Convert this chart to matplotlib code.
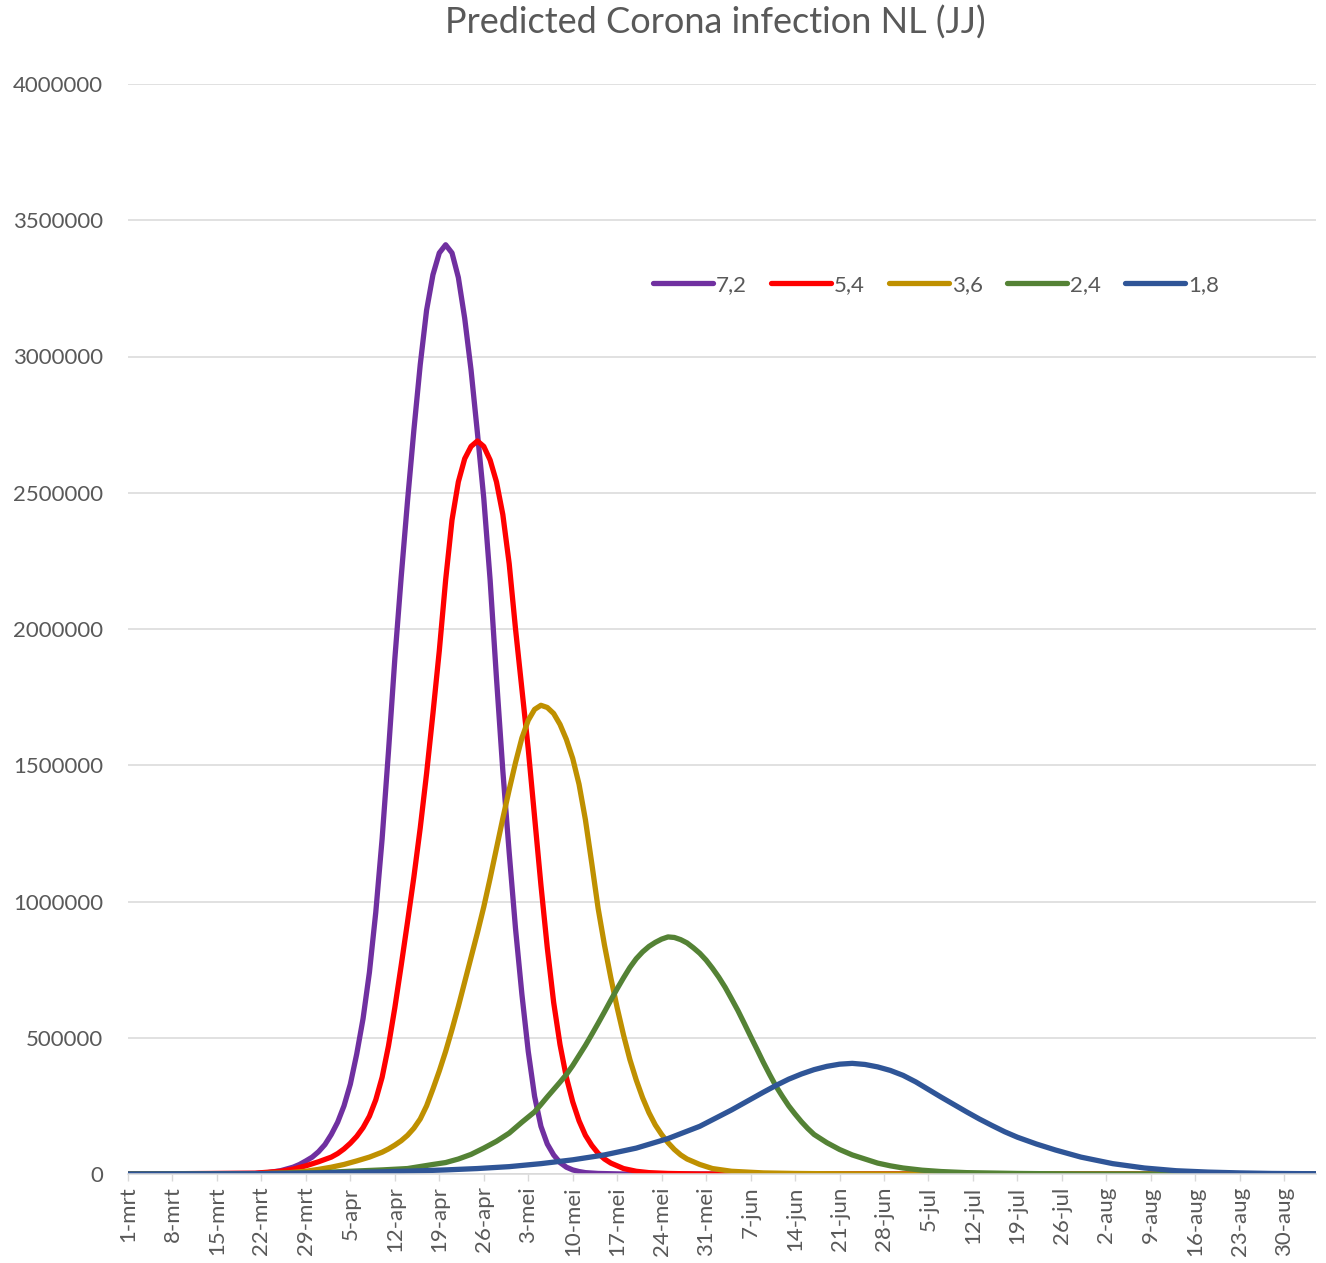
import numpy as np
import pandas as pd
import matplotlib
matplotlib.use("Agg")
import matplotlib.pyplot as plt

plt.rcParams['font.family'] = ['Lato', 'DejaVu Sans']

start = pd.Timestamp("2020-03-01")
last_day = 187
dutch_months = {3: "mrt", 4: "apr", 5: "mei", 6: "jun", 7: "jul", 8: "aug", 9: "sep"}

# values, in thousands, per day offset from 1-mrt
days_72 = [0, 20, 22, 24, 26, 27, 28, 29, 30, 31, 32, 33, 34, 35, 36, 37, 38, 39, 40, 41, 42, 43, 44,
           45, 46, 47, 48, 49, 50, 51, 52, 53, 54, 55, 56, 57, 58, 59, 60, 61, 62, 63, 64, 65, 66,
           67, 68, 69, 70, 71, 72, 74, 78, 187]
vals_72 = [0, 2, 5, 12, 25, 35, 48, 62, 82, 108, 145, 190, 250, 330, 440, 570, 740, 960, 1230, 1550,
           1890, 2190, 2470, 2730, 2970, 3170, 3300, 3380, 3410, 3380, 3290, 3140, 2950, 2720, 2480,
           2180, 1820, 1480, 1180, 900, 660, 450, 285, 175, 110, 70, 42, 25, 15, 9, 5, 2, 0, 0]

days_54 = [0, 20, 24, 26, 28, 30, 32, 33, 34, 35, 36, 37, 38, 39, 40, 41, 42, 43, 44, 45, 46, 47, 48,
           49, 50, 51, 52, 53, 54, 55, 56, 57, 58, 59, 60, 61, 62, 63, 64, 65, 66, 67, 68, 69, 70, 71,
           72, 73, 74, 75, 76, 78, 80, 82, 85, 90, 187]
vals_54 = [0, 3, 10, 18, 30, 45, 62, 75, 92, 113, 138, 170, 212, 272, 355, 470, 610, 765, 925, 1090,
           1270, 1470, 1690, 1920, 2180, 2400, 2540, 2625, 2670, 2690, 2670, 2620, 2540, 2420, 2240,
           2000, 1780, 1560, 1310, 1060, 830, 630, 475, 355, 265, 195, 142, 105, 76, 55, 40, 20, 10,
           5, 2, 0, 0]

days_36 = [0, 20, 25, 28, 30, 32, 34, 36, 38, 40, 41, 42, 43, 44, 45, 46, 47, 48, 49, 50, 51, 52, 53,
           54, 55, 56, 57, 58, 59, 60, 61, 62, 63, 64, 65, 66, 67, 68, 69, 70, 71, 72, 73, 74, 75, 76,
           77, 78, 79, 80, 81, 82, 83, 84, 85, 86, 87, 88, 90, 92, 95, 100, 105, 110, 120, 187]
vals_36 = [0, 1, 4, 10, 17, 25, 35, 48, 62, 80, 92, 106, 122, 142, 168, 202, 250, 312, 378, 450, 530,
           615, 705, 795, 885, 980, 1085, 1195, 1305, 1410, 1510, 1600, 1665, 1705, 1720, 1712, 1690,
           1650, 1595, 1525, 1430, 1300, 1140, 975, 840, 720, 610, 510, 420, 345, 280, 225, 180, 145,
           115, 90, 70, 55, 35, 20, 10, 4, 2, 1, 0, 0]

days_24 = [0, 20, 30, 35, 40, 44, 48, 50, 52, 54, 56, 58, 60, 62, 64, 65, 66, 67, 68, 69, 70, 71, 72,
           73, 74, 75, 76, 77, 78, 79, 80, 81, 82, 83, 84, 85, 86, 87, 88, 89, 90, 91, 92, 93, 94, 95,
           96, 97, 98, 99, 100, 101, 102, 103, 104, 105, 106, 107, 108, 110, 112, 114, 116, 118, 120,
           122, 125, 128, 132, 140, 150, 187]
vals_24 = [0, 1, 5, 10, 15, 20, 35, 42, 55, 72, 95, 120, 150, 190, 228, 255, 283, 310, 337, 365, 398,
           435, 472, 512, 553, 595, 638, 680, 720, 758, 790, 815, 835, 850, 862, 870, 868, 860, 848,
           830, 810, 785, 755, 722, 685, 643, 600, 553, 505, 458, 410, 365, 322, 285, 250, 220, 192,
           167, 145, 115, 90, 70, 55, 40, 30, 22, 14, 9, 5, 2, 0, 0]

days_18 = [0, 20, 30, 40, 45, 50, 55, 60, 65, 70, 75, 80, 85, 90, 95, 100, 102, 104, 106, 108, 110,
           112, 114, 116, 118, 120, 122, 124, 126, 128, 130, 132, 134, 136, 138, 140, 143, 146, 150,
           155, 160, 165, 170, 175, 180, 187]
vals_18 = [0, 1, 4, 8, 11, 15, 20, 27, 38, 52, 70, 95, 130, 175, 235, 300, 325, 348, 367, 383, 395,
           403, 406, 402, 393, 380, 362, 338, 310, 282, 255, 228, 202, 178, 155, 135, 110, 88, 62, 38,
           22, 12, 7, 4, 2, 1]

series = [("7,2", days_72, vals_72, "#7030A0"),
          ("5,4", days_54, vals_54, "#FF0000"),
          ("3,6", days_36, vals_36, "#BF9000"),
          ("2,4", days_24, vals_24, "#548235"),
          ("1,8", days_18, vals_18, "#2F5597")]

tick_days = list(range(0, 183, 7))
tick_labels = []
for d in tick_days:
    dt = start + pd.Timedelta(days=d)
    tick_labels.append(f"{dt.day}-{dutch_months[dt.month]}")

fig = plt.figure(figsize=(13.26, 12.63), dpi=100)
ax = fig.add_axes([128 / 1326, 1 - 1174 / 1263, (1316 - 128) / 1326, (1174 - 84) / 1263])

for name, d, v, c in series:
    ax.plot(d, np.array(v) * 1000, color=c, lw=3.8, label=name,
            solid_capstyle="round", solid_joinstyle="round")

ax.set_xlim(0, last_day)
ax.set_ylim(0, 4000000)
ax.set_yticks(range(0, 4000001, 500000))
ax.set_yticklabels([str(v) for v in range(0, 4000001, 500000)])
ax.set_xticks(tick_days)
ax.set_xticklabels(tick_labels, rotation=90)

ax.grid(axis="y", color="#D9D9D9", lw=1.1)
ax.set_axisbelow(True)
for s in ["top", "right", "left"]:
    ax.spines[s].set_visible(False)
ax.spines["bottom"].set_color("#D9D9D9")
ax.spines["bottom"].set_linewidth(1.1)
ax.tick_params(axis="y", length=0, pad=18, labelsize=16, labelcolor="#595959")
ax.tick_params(axis="x", length=5, width=1, color="#D9D9D9", pad=4, labelsize=16,
               labelcolor="#595959")

leg = ax.legend(loc="center", bbox_to_anchor=((936 - 128) / 1188, (1174 - 285) / 1090), ncol=5,
                frameon=False, fontsize=16, handlelength=2.7, handletextpad=0.12,
                columnspacing=1.1, labelcolor="#595959")

fig.text(715 / 1326, 1 - 23 / 1263, "Predicted Corona infection NL (JJ)", ha="center", va="center",
         fontsize=26, color="#595959")

fig.savefig("out.png", dpi=100, facecolor="white")
